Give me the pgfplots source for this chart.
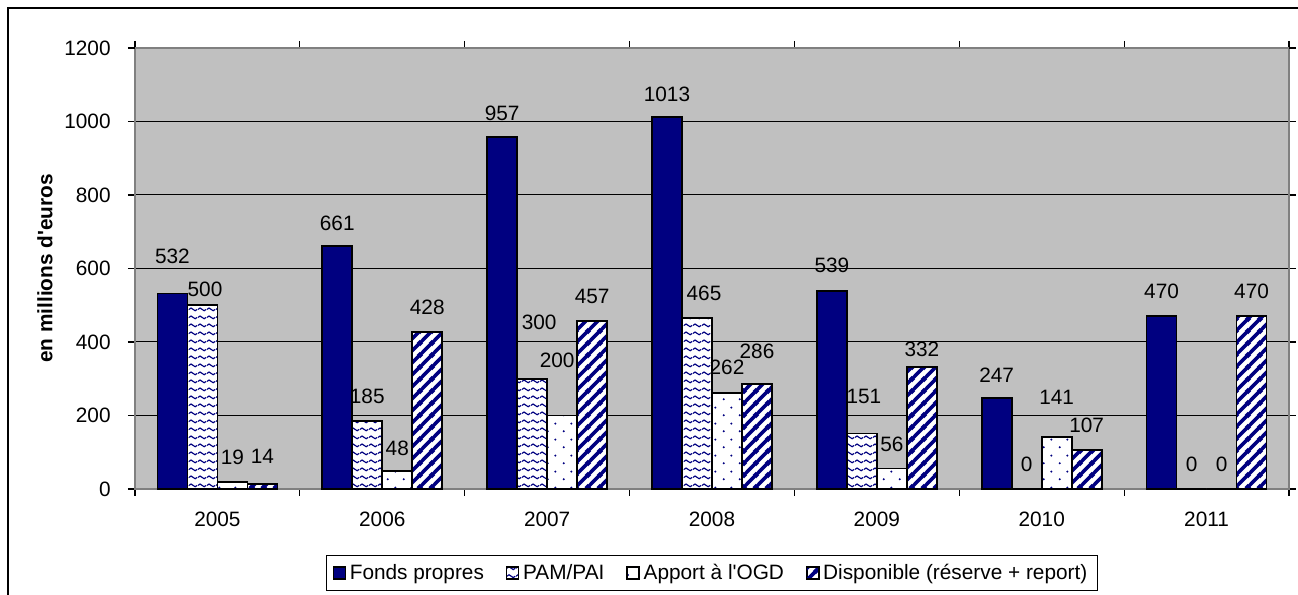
\documentclass[border=0pt]{standalone}
\usepackage{fontspec}
\setmainfont{Liberation Sans}
\usepackage{pgfplots}
\pgfplotsset{compat=1.18}
\usepackage{pgfplotstable}
\usetikzlibrary{patterns}

\definecolor{navybar}{RGB}{0,0,128}
\definecolor{plotbg}{RGB}{192,192,192}
\definecolor{plotframe}{RGB}{128,128,128}

% wavy lines for PAM/PAI
\pgfdeclarepatternformonly{wavesPAM}{\pgfpointorigin}{\pgfpoint{4.3pt}{3.8pt}}{\pgfpoint{4.3pt}{3.8pt}}{
  \pgfsetlinewidth{0.6pt}
  \pgfpathmoveto{\pgfpoint{0pt}{1.9pt}}
  \pgfpathsine{\pgfpoint{1.075pt}{0.7pt}}
  \pgfpathcosine{\pgfpoint{1.075pt}{-0.7pt}}
  \pgfpathsine{\pgfpoint{1.075pt}{-0.7pt}}
  \pgfpathcosine{\pgfpoint{1.075pt}{0.7pt}}
  \pgfusepath{stroke}
}
% sparse staggered dots for the OGD contribution
\pgfdeclarepatternformonly{dotsOGD}{\pgfpointorigin}{\pgfpoint{8pt}{8pt}}{\pgfpoint{8pt}{8pt}}{
  \pgfpathcircle{\pgfpoint{2pt}{2pt}}{0.6pt}
  \pgfpathcircle{\pgfpoint{6pt}{6pt}}{0.6pt}
  \pgfusepath{fill}
}
% wide diagonal stripes for the available amount
\pgfdeclarepatternformonly{stripesDispo}{\pgfpointorigin}{\pgfpoint{6pt}{6pt}}{\pgfpoint{6pt}{6pt}}{
  \pgfsetlinewidth{1.9pt}
  \pgfpathmoveto{\pgfpoint{-1pt}{-1pt}}\pgfpathlineto{\pgfpoint{7pt}{7pt}}
  \pgfpathmoveto{\pgfpoint{-1pt}{5pt}}\pgfpathlineto{\pgfpoint{1pt}{7pt}}
  \pgfpathmoveto{\pgfpoint{5pt}{-1pt}}\pgfpathlineto{\pgfpoint{7pt}{1pt}}
  \pgfusepath{stroke}
}

% x = year index (2005 = 0), y = amount, dx/dy = label offsets in pt
\pgfplotstableread{
x y dx dy
0 532 0 15
1 661 0 8
2 957 0 8.3
3 1013 0 7.5
4 539 0 9
5 247 0 8
6 470 0 9
}\fonds
\pgfplotstableread{
x y dx dy
0 500 1.3 4.3
1 185 0 9
2 300 3.5 24.5
3 465 3.5 9
4 151 1 15
5 0 0 8.5
6 0 0 8.5
}\pam
\pgfplotstableread{
x y dx dy
0 19 0 9
1 48 0 8
2 200 -2.5 24
3 262 0 9
4 56 0 8.5
5 141 0 16.5
6 0 0 8.5
}\apport
\pgfplotstableread{
x y dx dy
0 14 0 10
1 428 0 8.5
2 457 0 9
3 286 0 12.5
4 332 0 5
5 107 0 8.5
6 470 0 9
}\dispo

\newcommand\chartfont{\fontsize{10.4}{12.5}\selectfont}

\begin{document}
\begin{tikzpicture}
\useasboundingbox (0,0) rectangle (649pt,297.5pt);
\draw[line width=0.75pt] (4pt,-2pt) -- (4pt,293.5pt) -- (652pt,293.5pt);
\begin{axis}[
  at={(67.5pt,53pt)}, anchor=south west,
  scale only axis, width=577pt, height=220.5pt,
  xmin=-0.5, xmax=6.5, ymin=0, ymax=1200,
  ybar=0pt, bar width=15pt,
  clip=false,
  axis background/.style={fill=plotbg},
  axis line style={draw=plotframe, line width=0.75pt},
  /pgf/number format/assume math mode=true,
  /pgf/number format/1000 sep={},
  tick label style={font=\chartfont},
  label style={font=\chartfont\bfseries},
  xtick={-0.5,0.5,...,6.5}, xticklabels={,,,,,,,},
  extra x ticks={0,1,2,3,4,5,6},
  extra x tick labels={2005,2006,2007,2008,2009,2010,2011},
  extra x tick style={major tick length=0pt, xticklabel style={anchor=base, yshift=-19pt}},
  ytick={0,200,...,1000},
  extra y ticks={1200}, extra y tick style={grid=none},
  yticklabel style={anchor=east, inner sep=0pt, xshift=-8.5pt},
  tick align=outside, major tick length=3.5pt,
  tick style={black, line width=0.6pt},
  ymajorgrids, grid style={black, line width=0.5pt},
  ylabel={en millions d\textquotesingle euros},
  ylabel style={at={(axis description cs:-0.078,0.5)}, anchor=center},
  legend columns=4,
  legend style={at={(0.5,-0.1905)}, anchor=center, draw=black, line width=0.6pt,
    fill=white, inner xsep=3pt, inner ysep=2pt, font=\chartfont,
    /tikz/every even column/.append style={column sep=9pt}},
  legend image code/.code={\draw[#1, line width=0.6pt] (0pt,-3pt) rectangle (6pt,3pt);},
  barlabels/.style={
    nodes near coords,
    visualization depends on={\thisrow{dx}\as\labdx},
    visualization depends on={\thisrow{dy}\as\labdy},
    every node near coord/.append style={anchor=base, xshift=\labdx, yshift=\labdy,
      text=black, font=\chartfont, inner sep=0pt}},
]
\addplot[draw=black, line width=0.9pt, fill=navybar, barlabels] table[x=x,y=y]{\fonds};
\addplot[draw=black, line width=0.9pt, preaction={fill=white}, pattern=wavesPAM, pattern color=navybar, barlabels] table[x=x,y=y]{\pam};
\addplot[draw=black, line width=0.9pt, preaction={fill=white}, pattern=dotsOGD, pattern color=navybar, barlabels] table[x=x,y=y]{\apport};
\addplot[draw=black, line width=0.9pt, preaction={fill=white}, pattern=stripesDispo, pattern color=navybar, barlabels] table[x=x,y=y]{\dispo};
\legend{Fonds propres, PAM/PAI, Apport à l\textquotesingle OGD, Disponible (réserve + report)}
\end{axis}
\end{tikzpicture}
\end{document}
